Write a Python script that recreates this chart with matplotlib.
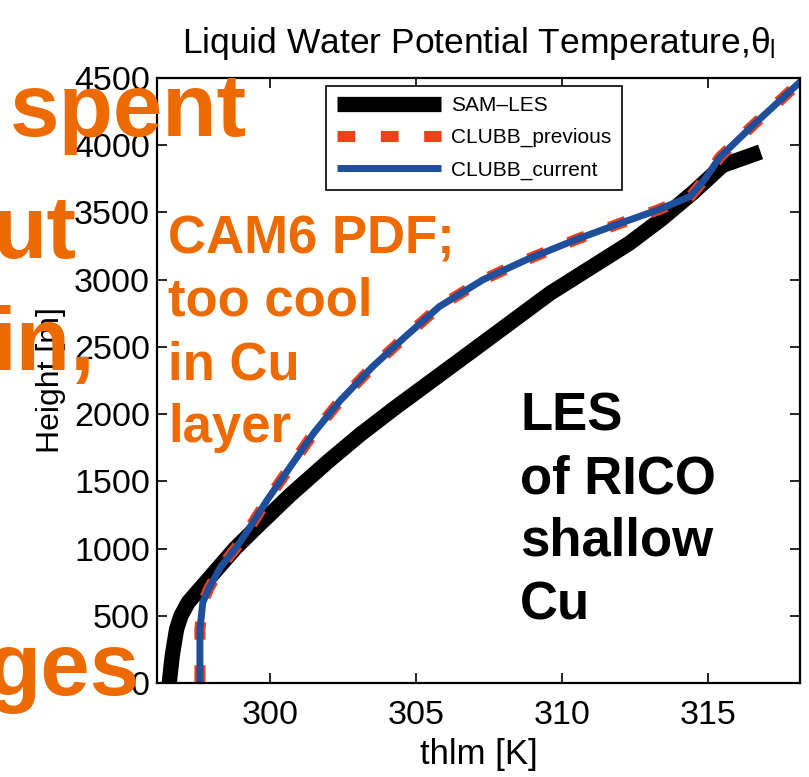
import matplotlib
matplotlib.use("Agg")
import matplotlib.pyplot as plt

# SAM-LES profile (height m, thlm K)
les_height = [0, 200, 400, 500, 600, 700, 800, 1000, 1150, 1400, 1650, 1850, 2050, 2450, 2900, 3270, 3450, 3650, 3850, 3950]
les_thlm = [296.55, 296.65, 296.8, 296.95, 297.2, 297.6, 298.0, 298.8, 299.5, 300.7, 302.0, 303.1, 304.3, 306.8, 309.6, 312.3, 313.4, 314.5, 315.5, 316.8]

# CLUBB profiles (previous and current overlap)
clubb_height = [0, 400, 600, 700, 860, 1010, 1120, 1360, 1610, 1860, 2100, 2350, 2570, 2800, 3000, 3150, 3300, 3420, 3520, 3620, 3750, 3910, 4140, 4500]
clubb_prev_thlm = [297.6, 297.6, 297.7, 297.9, 298.3, 298.85, 299.2, 299.9, 300.7, 301.5, 302.4, 303.5, 304.6, 305.8, 307.3, 308.8, 310.5, 312.0, 313.3, 314.4, 314.9, 315.4, 316.5, 318.3]
clubb_cur_thlm = [297.6, 297.6, 297.7, 297.9, 298.3, 298.85, 299.2, 299.9, 300.7, 301.5, 302.4, 303.5, 304.6, 305.8, 307.3, 308.8, 310.5, 312.0, 313.3, 314.4, 314.9, 315.4, 316.5, 318.3]

x_ticks = [300, 305, 310, 315]
y_ticks = [0, 500, 1000, 1500, 2000, 2500, 3000, 3500, 4000, 4500]

W, H = 809, 777
ORANGE = "#EC6A00"

plt.rcParams["font.family"] = ["Liberation Sans", "DejaVu Sans"]
plt.rcParams["mathtext.fontset"] = "custom"
plt.rcParams["mathtext.rm"] = "Liberation Sans"
plt.rcParams["mathtext.it"] = "Liberation Sans"

fig = plt.figure(figsize=(W / 100, H / 100), dpi=100)
ax = fig.add_axes([157 / W, 94 / H, 643 / W, 605 / H])

ax.plot(les_thlm, les_height, color="black", lw=11, solid_capstyle="butt", label="SAM\u2013LES")
ax.plot(clubb_prev_thlm, clubb_height, color="#F0401A", lw=8, dashes=(1.6, 2.3),
        dash_capstyle="butt", label="CLUBB_previous")
ax.plot(clubb_cur_thlm, clubb_height, color="#1F4E9A", lw=5, solid_capstyle="butt", label="CLUBB_current")

ax.set_xlim(296.13, 318.15)
ax.set_ylim(0, 4500)
ax.set_xticks(x_ticks)
ax.set_yticks(y_ticks)
ax.tick_params(direction="in", top=True, right=True, length=7, width=1.2, labelsize=24.5)
ax.tick_params(axis="x", pad=12)
ax.tick_params(axis="y", pad=5)
for s in ax.spines.values():
    s.set_linewidth(1.6)

ax.set_title("Liquid Water Potential Temperature,$\\theta_{l}$", fontsize=25.5, pad=18)
ax.set_xlabel("thlm [K]", fontsize=25, labelpad=5)
ax.set_ylabel("Height [m]", fontsize=23, labelpad=6)

leg = ax.legend(loc="upper left", bbox_to_anchor=(0.263, 0.987), borderaxespad=0, fontsize=15,
                handlelength=5.0, handletextpad=0.5, labelspacing=0.62, borderpad=0.5,
                frameon=True, fancybox=False, edgecolor="black", framealpha=1)
leg.get_frame().set_linewidth(1.2)


def px(x, y):
    return x / W, 1 - y / H


# slide overlay text
bold = dict(fontweight="bold", va="baseline")
fig.text(*px(247, 136), "spent", color=ORANGE, fontsize=64, ha="right", **bold)
fig.text(*px(76, 258), "ut", color=ORANGE, fontsize=64, ha="right", **bold)
fig.text(*px(95, 370), "in,", color=ORANGE, fontsize=64, ha="right", **bold)
fig.text(*px(140, 695), "ges", color=ORANGE, fontsize=64, ha="right", **bold)

cam_lines = ["CAM6 PDF;", "too cool", "in Cu", "layer"]
for i, t in enumerate(cam_lines):
    fig.text(*px(168, 253 + 63 * i), t, color=ORANGE, fontsize=38, ha="left", **bold)

les_lines = ["LES", "of RICO", "shallow", "Cu"]
for i, t in enumerate(les_lines):
    fig.text(*px(520, 430 + 63 * i), t, color="black", fontsize=38, ha="left", **bold)

fig.savefig("out.png", dpi=100)
